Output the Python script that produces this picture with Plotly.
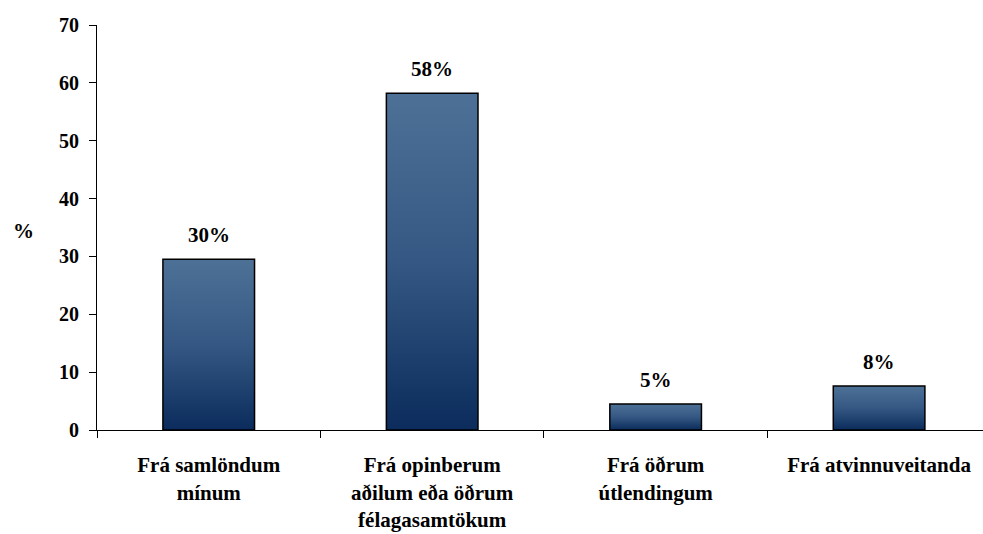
import plotly.graph_objects as go

categories = ["Frá samlöndum<br>mínum",
              "Frá opinberum<br>aðilum eða öðrum<br>félagasamtökum",
              "Frá öðrum<br>útlendingum",
              "Frá atvinnuveitanda"]
values = [29.5, 58.2, 4.5, 7.6]
value_labels = ["30%", "58%", "5%", "8%"]
y_ticks = [0, 10, 20, 30, 40, 50, 60, 70]

FONT = "Liberation Serif, Times New Roman, serif"

fig = go.Figure()
fig.add_trace(go.Bar(
    x=categories,
    y=values,
    width=0.41,
    marker=dict(color="#2c4d78", line=dict(color="black", width=1.5)),
    hoverinfo="skip",
))

for cat, v, lab in zip(categories, values, value_labels):
    fig.add_annotation(x=cat, y=v, text=lab, showarrow=False, yanchor="middle",
                       yshift=24, font=dict(family=FONT, size=21, color="black", weight="bold"))

fig.add_annotation(xref="paper", yref="paper", x=0, y=0.5, xshift=-74, yshift=-3,
                   text="%", showarrow=False, xanchor="center", yanchor="middle",
                   font=dict(family=FONT, size=21, color="black", weight="bold"))

fig.update_layout(
    width=983, height=534,
    margin=dict(l=97, r=0, t=25, b=104),
    paper_bgcolor="white", plot_bgcolor="white",
    showlegend=False,
    xaxis=dict(
        type="category",
        range=[-0.5, 3.465], tickson="boundaries",
        ticks="outside", ticklen=7, tickcolor="black", tickwidth=1,
        showline=True, linecolor="black", linewidth=1,
        showgrid=False, zeroline=False,
        tickfont=dict(family=FONT, size=21, color="black", weight="bold"),
        ticklabelstandoff=16,
    ),
    yaxis=dict(
        range=[0, 70], tickmode="array", tickvals=y_ticks,
        ticks="outside", ticklen=7, tickcolor="black", tickwidth=1,
        showline=True, linecolor="black", linewidth=1,
        showgrid=False, zeroline=False,
        tickfont=dict(family=FONT, size=20, color="black", weight="bold"),
        ticklabelstandoff=6,
    ),
)

post = """
document.body.style.margin = '0';
document.documentElement.style.overflow = 'hidden';
var gd = document.getElementById('{plot_id}');
var svg = gd.querySelector('svg.main-svg');
var ns = 'http://www.w3.org/2000/svg';
var defs = svg.querySelector('defs');
if (!defs) { defs = document.createElementNS(ns, 'defs'); svg.insertBefore(defs, svg.firstChild); }
var g = document.createElementNS(ns, 'linearGradient');
g.setAttribute('id', 'bargrad');
g.setAttribute('x1', '0'); g.setAttribute('y1', '0');
g.setAttribute('x2', '0'); g.setAttribute('y2', '1');
[['0', '#4d7196'], ['0.5', '#345883'], ['1', '#0b2c5c']].forEach(function(s){
  var st = document.createElementNS(ns, 'stop');
  st.setAttribute('offset', s[0]); st.setAttribute('stop-color', s[1]);
  g.appendChild(st);
});
defs.appendChild(g);
gd.querySelectorAll('.bars .point path').forEach(function(p){ p.style.fill = 'url(#bargrad)'; });
"""

fig.write_html("out.html", post_script=post, config={"displayModeBar": False})
